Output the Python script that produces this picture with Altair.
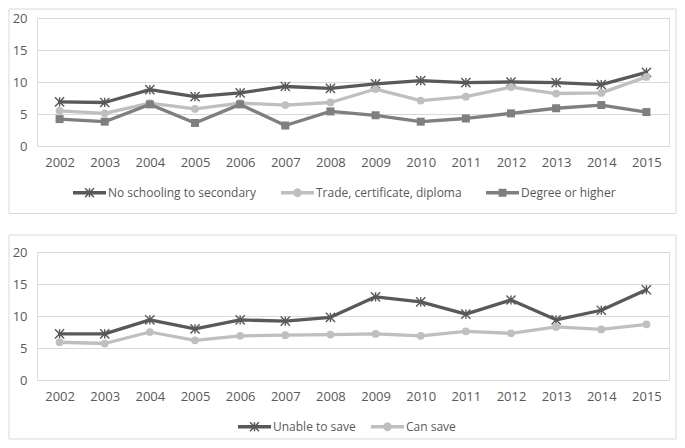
import math
import altair as alt
import pandas as pd

# ---------------- data ----------------
years = ["2002", "2003", "2004", "2005", "2006", "2007", "2008",
         "2009", "2010", "2011", "2012", "2013", "2014", "2015"]

edu_series = ["No schooling to secondary", "Trade, certificate, diploma", "Degree or higher"]
no_schooling = [6.9, 6.8, 8.8, 7.7, 8.3, 9.3, 9.0, 9.7, 10.2, 9.9, 10.0, 9.9, 9.6, 11.5]
trade = [5.5, 5.1, 6.7, 5.8, 6.7, 6.4, 6.8, 8.9, 7.1, 7.7, 9.2, 8.2, 8.3, 10.8]
degree = [4.2, 3.8, 6.5, 3.6, 6.5, 3.2, 5.4, 4.8, 3.8, 4.3, 5.1, 5.9, 6.4, 5.3]

save_series = ["Unable to save", "Can save"]
unable_to_save = [7.2, 7.2, 9.4, 8.0, 9.4, 9.2, 9.8, 13.0, 12.2, 10.3, 12.5, 9.4, 10.9, 14.1]
can_save = [5.9, 5.7, 7.5, 6.2, 6.9, 7.0, 7.1, 7.2, 6.9, 7.6, 7.3, 8.3, 7.9, 8.7]

y_ticks = [0, 5, 10, 15, 20]

# ---------------- styles ----------------
DARK = "#595959"
MID = "#7F7F7F"
LIGHT = "#BFBFBF"
GRID = "#D9D9D9"
TEXT = "#595959"
FONT = "Open Sans"
AXIS_FS = 13
W, H = 632, 128


def long_df(names, arrays):
    rows = []
    for n, arr in zip(names, arrays):
        for yr, v in zip(years, arr):
            rows.append({"year": yr, "value": v, "series": n})
    return pd.DataFrame(rows)


def poly(pts):
    area = 0.0
    for i in range(len(pts)):
        x1, y1 = pts[i]
        x2, y2 = pts[(i + 1) % len(pts)]
        area += x1 * y2 - x2 * y1
    if area < 0:
        pts = pts[::-1]
    s = "M" + "L".join(f"{x:.3f},{y:.3f}" for x, y in pts) + "Z"
    return s


def bar(x1, y1, x2, y2, t):
    dx, dy = x2 - x1, y2 - y1
    ln = math.hypot(dx, dy)
    nx, ny = -dy / ln * t, dx / ln * t
    return poly([(x1 + nx, y1 + ny), (x2 + nx, y2 + ny), (x2 - nx, y2 - ny), (x1 - nx, y1 - ny)])


LINE_T = 0.1
legend_line = bar(-1, 0, 1, 0, LINE_T)
leg_square = legend_line + poly([(-0.24, -0.24), (0.24, -0.24), (0.24, 0.24), (-0.24, 0.24)])
leg_circle = legend_line + poly([(0.27 * math.cos(2 * math.pi * k / 20), 0.27 * math.sin(2 * math.pi * k / 20))
                                 for k in range(20)])
a = 0.27
st = 0.045
leg_star = (legend_line + bar(-a, -a, a, a, st) + bar(-a, a, a, -a, st) + bar(0, -a, 0, a, st))

STAR = "M-1,-1L1,1M-1,1L1,-1M0,-1L0,1"


def marker_layer(base, kind, color):
    if kind == "star":
        return base.mark_point(shape=STAR, filled=False, strokeWidth=1.4, size=85, color=color, opacity=1)
    if kind == "circle":
        return base.mark_point(shape="circle", filled=True, size=60, color=color, opacity=1)
    return base.mark_point(shape="square", filled=True, size=64, color=color, opacity=1)


def panel(names, arrays, colors, kinds, leg_paths, legend_x, col_pad, frame_y, frame_y2):
    df = long_df(names, arrays)
    x = alt.X("year:O", sort=years,
              scale=alt.Scale(domain=years, type="point", padding=0.5),
              axis=alt.Axis(title=None, labelAngle=0, domain=False, ticks=False, tickSize=0,
                            labelPadding=10, grid=False, labelFont=FONT, labelFontSize=AXIS_FS,
                            labelColor=TEXT))
    y = alt.Y("value:Q", scale=alt.Scale(domain=[0, 20], nice=False),
              axis=alt.Axis(title=None, values=y_ticks, domain=False, ticks=False, tickSize=0,
                            labelPadding=10, grid=True, gridColor=GRID, gridWidth=1,
                            labelFont=FONT, labelFontSize=AXIS_FS, labelColor=TEXT))

    frame = alt.Chart(pd.DataFrame({"f": [0]})).mark_rect(
        fill="white", fillOpacity=0, stroke=GRID, strokeWidth=1
    ).encode(x=alt.value(-28), x2=alt.value(W + 7), y=alt.value(frame_y), y2=alt.value(frame_y2))

    layers = [frame]
    for n, c, k in zip(names, colors, kinds):
        base = alt.Chart(df).transform_filter(alt.datum.series == n).encode(x=x, y=y)
        layers.append(base.mark_line(color=c, strokeWidth=3.3, strokeJoin="round", strokeCap="round"))
        layers.append(marker_layer(base, k, c))

    leg = alt.Legend(title=None, orient="none", legendX=legend_x, legendY=158,
                     direction="horizontal", symbolSize=1089, symbolStrokeWidth=0,
                     labelFont=FONT, labelFontSize=12, labelColor=TEXT, labelOffset=2,
                     columnPadding=col_pad)
    legend_layer = alt.Chart(df).transform_filter("false").mark_point(
        filled=True, opacity=1, size=1089
    ).encode(
        x=x, y=y,
        color=alt.Color("series:N", scale=alt.Scale(domain=names, range=colors), legend=leg),
        shape=alt.Shape("series:N", scale=alt.Scale(domain=names, range=leg_paths), legend=leg),
    )
    layers.append(legend_layer)
    return alt.layer(*layers).properties(width=W, height=H)


top = panel(edu_series, [no_schooling, trade, degree], [DARK, LIGHT, MID],
            ["star", "circle", "square"], [leg_star, leg_circle, leg_square],
            legend_x=36, col_pad=24, frame_y=-9, frame_y2=195.5)
bottom = panel(save_series, [unable_to_save, can_save], [DARK, LIGHT],
               ["star", "circle"], [leg_star, leg_circle],
               legend_x=201, col_pad=15, frame_y=-17, frame_y2=187)

chart = alt.vconcat(top, bottom, spacing=106, bounds="flush").resolve_scale(
    color="independent", shape="independent", x="independent", y="independent"
).resolve_legend(color="independent", shape="independent").properties(
    padding=0
).configure_view(stroke="transparent").configure(background="white")

chart.save("out.html", embed_options={"renderer": "svg", "actions": False})
